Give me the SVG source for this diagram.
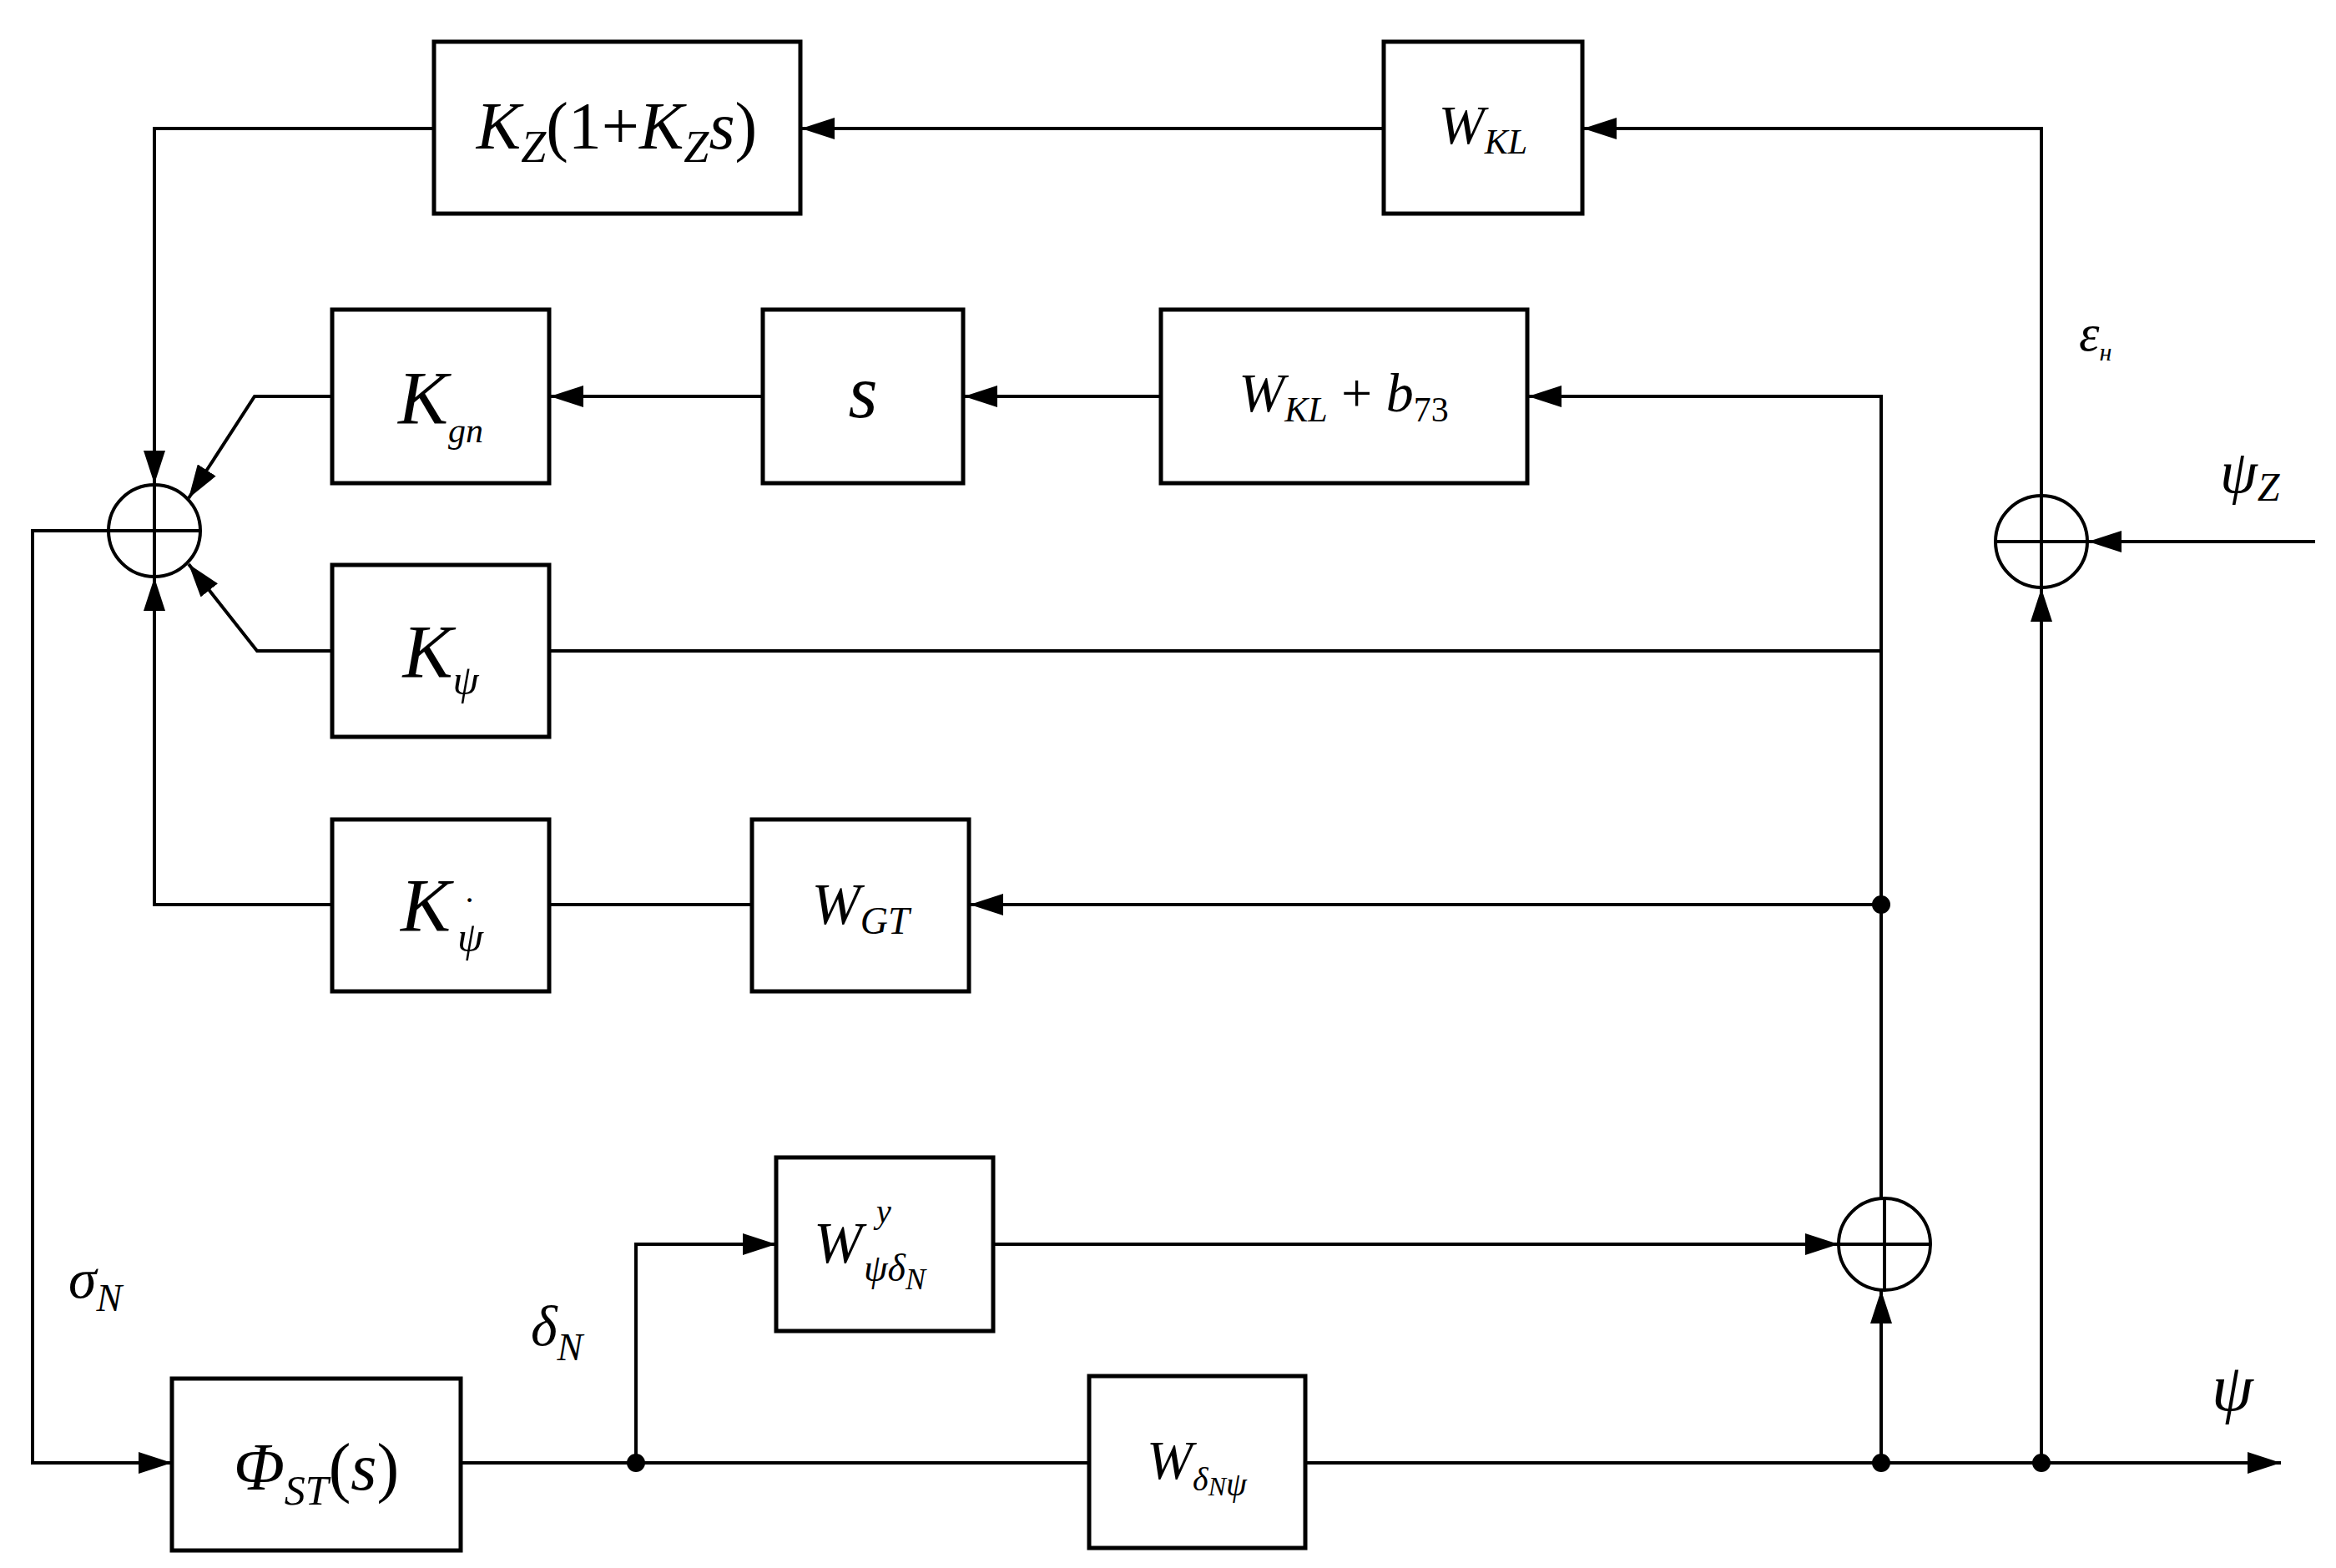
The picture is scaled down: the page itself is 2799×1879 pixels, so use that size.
<svg xmlns="http://www.w3.org/2000/svg" width="2799" height="1879" viewBox="0 0 2799 1879">
<style>
.b{fill:#fff;stroke:#000;stroke-width:5}
.c{fill:none;stroke:#000;stroke-width:4}
.t{font-family:"Liberation Serif","Times New Roman","DejaVu Serif",serif;font-style:italic;fill:#000}
</style>
<defs>
<marker id="A" markerWidth="40" markerHeight="26" refX="40" refY="13" orient="auto" markerUnits="userSpaceOnUse" viewBox="0 0 40 26"><path d="M0,0L40,13L0,26Z"/></marker>
</defs>
<rect width="2799" height="1879" fill="#fff"/>
<g id="connectors" class="c">
<path d="M1658,154H960" marker-end="url(#A)"/>
<path d="M520,154H185V580" marker-end="url(#A)"/>
<path d="M2446,594V154H1897" marker-end="url(#A)"/>
<path d="M2774,649H2502" marker-end="url(#A)"/>
<path d="M2446,1753V705" marker-end="url(#A)"/>
<path d="M2254,1436V475H1831" marker-end="url(#A)"/>
<path d="M1391,475H1155" marker-end="url(#A)"/>
<path d="M914,475H659" marker-end="url(#A)"/>
<path d="M398,475H305L226,597" marker-end="url(#A)"/>
<path d="M398,780H308L226,676" marker-end="url(#A)"/>
<path d="M658,780H2254"/>
<path d="M398,1084H185V692" marker-end="url(#A)"/>
<path d="M658,1084H901"/>
<path d="M2254,1084H1162" marker-end="url(#A)"/>
<path d="M130,636H39V1753H206" marker-end="url(#A)"/>
<path d="M552,1753H2733" marker-end="url(#A)"/>
<path d="M762,1753V1491H930" marker-end="url(#A)"/>
<path d="M1190,1491H2203" marker-end="url(#A)"/>
<path d="M2254,1753V1546" marker-end="url(#A)"/>
<circle cx="762" cy="1753" r="9" fill="#000"/>
<circle cx="2254" cy="1753" r="9" fill="#000"/>
<circle cx="2446" cy="1753" r="9" fill="#000"/>
<circle cx="2254" cy="1084" r="9" fill="#000"/>
</g>
<g id="sum1"><circle class="c" cx="185" cy="636" r="55"/><path class="c" d="M130,636H240M185,581V691"/></g>
<g id="sum2"><circle class="c" cx="2258" cy="1491" r="55"/><path class="c" d="M2203,1491H2313M2258,1436V1546"/></g>
<g id="sum3"><circle class="c" cx="2446" cy="649" r="55"/><path class="c" d="M2391,649H2501M2446,594V704"/></g>
<g id="kz"><rect class="b" x="520" y="50" width="439" height="206"/><text class="t" x="739" y="178" font-size="80" text-anchor="middle">K<tspan font-size="54" dy="16">Z</tspan><tspan dy="-16" font-style="normal">(1+</tspan>K<tspan font-size="54" dy="16">Z</tspan><tspan dy="-16">s</tspan><tspan font-style="normal">)</tspan></text></g>
<g id="wkl"><rect class="b" x="1658" y="50" width="238" height="206"/><text class="t" x="1777" y="172" font-size="66" text-anchor="middle">W<tspan font-size="42" dy="12">KL</tspan></text></g>
<g id="kgn"><rect class="b" x="398" y="371" width="260" height="208"/><text class="t" x="528" y="508" font-size="90" text-anchor="middle">K<tspan font-size="42" dy="22">gn</tspan></text></g>
<g id="s"><rect class="b" x="914" y="371" width="240" height="208"/><text class="t" x="1034" y="500" font-size="90" text-anchor="middle">s</text></g>
<g id="wklb"><rect class="b" x="1391" y="371" width="439" height="208"/><text class="t" x="1610" y="493" font-size="66" text-anchor="middle">W<tspan font-size="42" dy="12">KL</tspan><tspan dy="-12" font-style="normal"> + </tspan>b<tspan font-size="42" dy="12" font-style="normal">73</tspan></text></g>
<g id="kpsi"><rect class="b" x="398" y="677" width="260" height="206"/><text class="t" x="528" y="812" font-size="90" text-anchor="middle">K<tspan font-size="50" dy="20">ψ</tspan></text></g>
<g id="kpsidot"><rect class="b" x="398" y="982" width="260" height="206"/><text class="t" x="510" y="1116" font-size="90" text-anchor="middle">K</text><text class="t" x="548" y="1140" font-size="50">ψ</text><text class="t" x="557" y="1092" font-size="40" font-style="normal">·</text></g>
<g id="wgt"><rect class="b" x="901" y="982" width="260" height="206"/><text class="t" x="1031" y="1107" font-size="70" text-anchor="middle">W<tspan font-size="46" dy="12">GT</tspan></text></g>
<g id="wpsidelta"><rect class="b" x="930" y="1387" width="260" height="208"/><text class="t" x="975" y="1513" font-size="70">W</text><text class="t" x="1050" y="1465" font-size="40">y</text><text class="t" x="1035" y="1535" font-size="46">ψδ<tspan font-size="36" dy="10">N</tspan></text></g>
<g id="phi"><rect class="b" x="206" y="1652" width="346" height="206"/><text class="t" x="379" y="1785" font-size="80" text-anchor="middle">Φ<tspan font-size="50" dy="18">ST</tspan><tspan dy="-18" font-style="normal">(</tspan>s<tspan font-style="normal">)</tspan></text></g>
<g id="wdeltapsi"><rect class="b" x="1305" y="1649" width="259" height="206"/><text class="t" x="1434" y="1772" font-size="66" text-anchor="middle">W<tspan font-size="40" dy="14">δ<tspan font-size="32" dy="6">N</tspan>ψ</tspan></text></g>
<text class="t" x="2491" y="420" font-size="62">ε<tspan font-size="30" dy="12">н</tspan></text>
<text class="t" x="2660" y="590" font-size="72">ψ<tspan font-size="48" dy="10">Z</tspan></text>
<text class="t" x="2650" y="1690" font-size="80">ψ</text>
<text class="t" x="82" y="1555" font-size="68">σ<tspan font-size="46" dy="16">N</tspan></text>
<text class="t" x="636" y="1612" font-size="68">δ<tspan font-size="46" dy="18">N</tspan></text>
</svg>
